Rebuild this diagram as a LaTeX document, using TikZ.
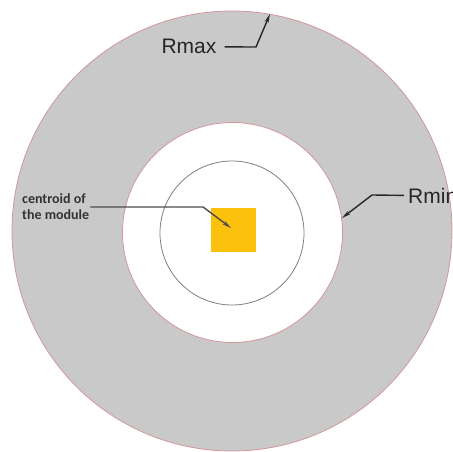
\documentclass[tikz,border=0pt]{standalone}
\usepackage{fontspec}
\setmainfont{Liberation Sans}
\newfontfamily\calibri{Carlito}
\usetikzlibrary{arrows.meta}

\definecolor{ringgray}{RGB}{201,201,201}
\definecolor{rimred}{RGB}{210,150,155}
\definecolor{modyellow}{RGB}{252,193,12}

\begin{document}
\begin{tikzpicture}[x=1pt, y=-1pt,
  leader/.style={draw=black!85, line width=1.4pt, -{Stealth[length=9pt,width=4pt]}},
  biglabel/.style={font=\fontsize{21}{25}\selectfont, text=black!85},
  smalllabel/.style={font=\calibri\bfseries\fontsize{14}{16}\selectfont, text=black!80, align=left, inner sep=0pt}]
\useasboundingbox (0,0) rectangle (453,452);

% rings
\draw[rimred, line width=0.8pt, fill=ringgray] (232,231) circle[radius=220pt];
\draw[rimred, line width=0.8pt, fill=white] (232.5,232.5) circle[radius=110pt];
\draw[black!50, line width=0.8pt] (232,233) circle[radius=72pt];

% module
\node (module) [fill=modyellow, minimum width=45pt, minimum height=44pt, inner sep=0pt] at (233.5,230) {};

% labels
\node (rmax) [biglabel, anchor=base, inner xsep=8pt] at (189,54) {Rmax};
\node (rmin) [biglabel, anchor=base west, inner xsep=4pt] at (404,203) {Rmin};
\node (centroid) [smalllabel, anchor=west] at (22,207) {centroid of\\the module};

\coordinate (rmaxbend) at (256,47);
\coordinate (rmaxtip) at (270,14);
\coordinate (rminbend) at (372,195);
\coordinate (rmintip) at (342,218);
\coordinate (cbend) at (203,207);
\coordinate (ctip) at (231,228);

\draw[leader] (rmax.east) -- (rmaxbend) -- (rmaxtip);
\draw[leader] (rmin.west) -- (rminbend) -- (rmintip);
\draw[leader, draw=black!70] ([xshift=1pt]centroid.east) -- (cbend) -- (ctip);
\end{tikzpicture}
\end{document}
